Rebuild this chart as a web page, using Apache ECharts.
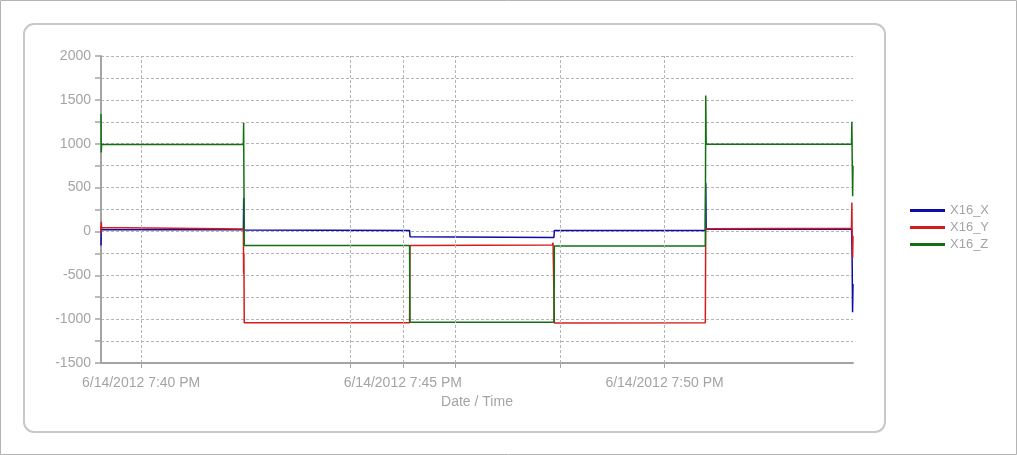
<!DOCTYPE html>
<html>
<head>
<meta charset="utf-8">
<script src="https://cdn.jsdelivr.net/npm/echarts@6/dist/echarts.min.js"></script>
<style>
html,body{margin:0;padding:0;background:#fff;}
#chart{width:1017px;height:455px;}
</style>
</head>
<body>
<div id="chart"></div>
<script>
// Time values are seconds after 6/14/2012 7:40 PM
const seriesNames = ['X16_X', 'X16_Y', 'X16_Z'];

const xTimes = [-46, -45.7, -45.3, 117.2, 117.6, 118, 307.7, 308.2, 473.2, 473.7, 646.7, 647.2, 647.7, 814.4, 815, 815.5, 816];
const xValues = [-160, 60, 20, 20, 380, 15, 12, -60, -68, 12, 12, 550, 25, 25, -300, -920, -600];

const yTimes = [-46, -45.7, -45.3, 117.2, 117.5, 117.8, 118.2, 307.7, 308.2, 471.2, 472.2, 473.2, 473.7, 646.7, 647.2, 814.3, 814.7, 815.1, 815.6, 816];
const yValues = [-20, 110, 45, 28, -480, -250, -1040, -1042, -160, -155, -130, -150, -1045, -1040, 30, 35, 330, -100, -300, -50];

const zTimes = [-46, -45.7, -45.3, 117.2, 117.5, 117.8, 118.2, 307.7, 308.2, 473.2, 473.7, 646.7, 647.2, 647.7, 814.3, 814.7, 815.1, 815.6, 816];
const zValues = [1340, 900, 990, 990, 1240, 660, -160, -160, -1035, -1035, -165, -165, 1550, 995, 995, 1250, 820, 400, 750];

const xLabelValues = [0, 300, 600];
const xTickLabels = ['6/14/2012 7:40 PM', '6/14/2012 7:45 PM', '6/14/2012 7:50 PM'];
const xGridValues = [0, 240, 300, 360, 480, 600];

const colors = ['#0c0ca8', '#d41c1c', '#127012'];

function pairs(t, v) { return t.map((tt, i) => [tt, v[i]]); }

const chart = echarts.init(document.getElementById('chart'));
const gray = '#a4a4a4';
const font = "'Liberation Sans', Arial, sans-serif";

chart.setOption({
  animation: false,
  graphic: [
    { type: 'rect', silent: true, z: -10, shape: { x: 0.5, y: 0.5, width: 1016, height: 454 }, style: { fill: 'none', stroke: '#b4b4b4', lineWidth: 1 } },
    { type: 'rect', silent: true, z: -10, shape: { x: 24, y: 24, width: 861, height: 408, r: 10 }, style: { fill: 'none', stroke: '#c8c8c8', lineWidth: 2 } }
  ],
  legend: {
    orient: 'vertical',
    left: 910,
    top: 203,
    padding: 0,
    itemWidth: 35,
    itemHeight: 3,
    itemGap: 2,
    icon: 'rect',
    data: seriesNames,
    textStyle: { fontSize: 13, color: gray, fontFamily: font, lineHeight: 15 }
  },
  grid: { left: 101, right: 164, top: 56, bottom: 92, containLabel: false },
  xAxis: {
    type: 'value',
    min: -46,
    max: 816,
    name: 'Date / Time',
    nameLocation: 'middle',
    nameGap: 32,
    nameTextStyle: { fontSize: 14, color: gray, fontFamily: font },
    axisLine: { onZero: false, lineStyle: { color: gray, width: 2 } },
    axisTick: { show: true, customValues: xGridValues, length: 5, lineStyle: { color: gray, width: 1 } },
    axisLabel: {
      customValues: xLabelValues,
      margin: 13,
      fontSize: 14,
      color: gray,
      fontFamily: font,
      formatter: function (v) {
        const i = xLabelValues.indexOf(v);
        return i >= 0 ? xTickLabels[i] : '';
      }
    },
    splitLine: { show: false }
  },
  yAxis: {
    type: 'value',
    min: -1500,
    max: 2000,
    interval: 250,
    axisLine: { show: true, onZero: false, lineStyle: { color: gray, width: 2 } },
    axisTick: { show: true, length: 6, lineStyle: { color: gray, width: 1.5 } },
    axisLabel: {
      margin: 10,
      fontSize: 14,
      color: gray,
      fontFamily: font,
      formatter: function (v) { return v % 500 === 0 ? String(v) : ''; }
    },
    splitLine: { show: true, lineStyle: { color: '#b4b4b4', type: [3, 2], width: 1 } }
  },
  series: [
    {
      type: 'line', name: '__grid', data: [], z: 1, silent: true,
      markLine: {
        silent: true, symbol: ['none', 'none'], label: { show: false },
        lineStyle: { color: '#b4b4b4', type: [3, 2], width: 1 },
        data: xGridValues.map(v => ({ xAxis: v }))
      }
    },
    { type: 'line', name: seriesNames[0], data: pairs(xTimes, xValues), showSymbol: false, symbol: 'none', color: colors[0], lineStyle: { width: 1.5, color: colors[0] } },
    { type: 'line', name: seriesNames[1], data: pairs(yTimes, yValues), showSymbol: false, symbol: 'none', color: colors[1], lineStyle: { width: 1.5, color: colors[1] } },
    { type: 'line', name: seriesNames[2], data: pairs(zTimes, zValues), showSymbol: false, symbol: 'none', color: colors[2], lineStyle: { width: 1.5, color: colors[2] } }
  ]
});
</script>
</body>
</html>
